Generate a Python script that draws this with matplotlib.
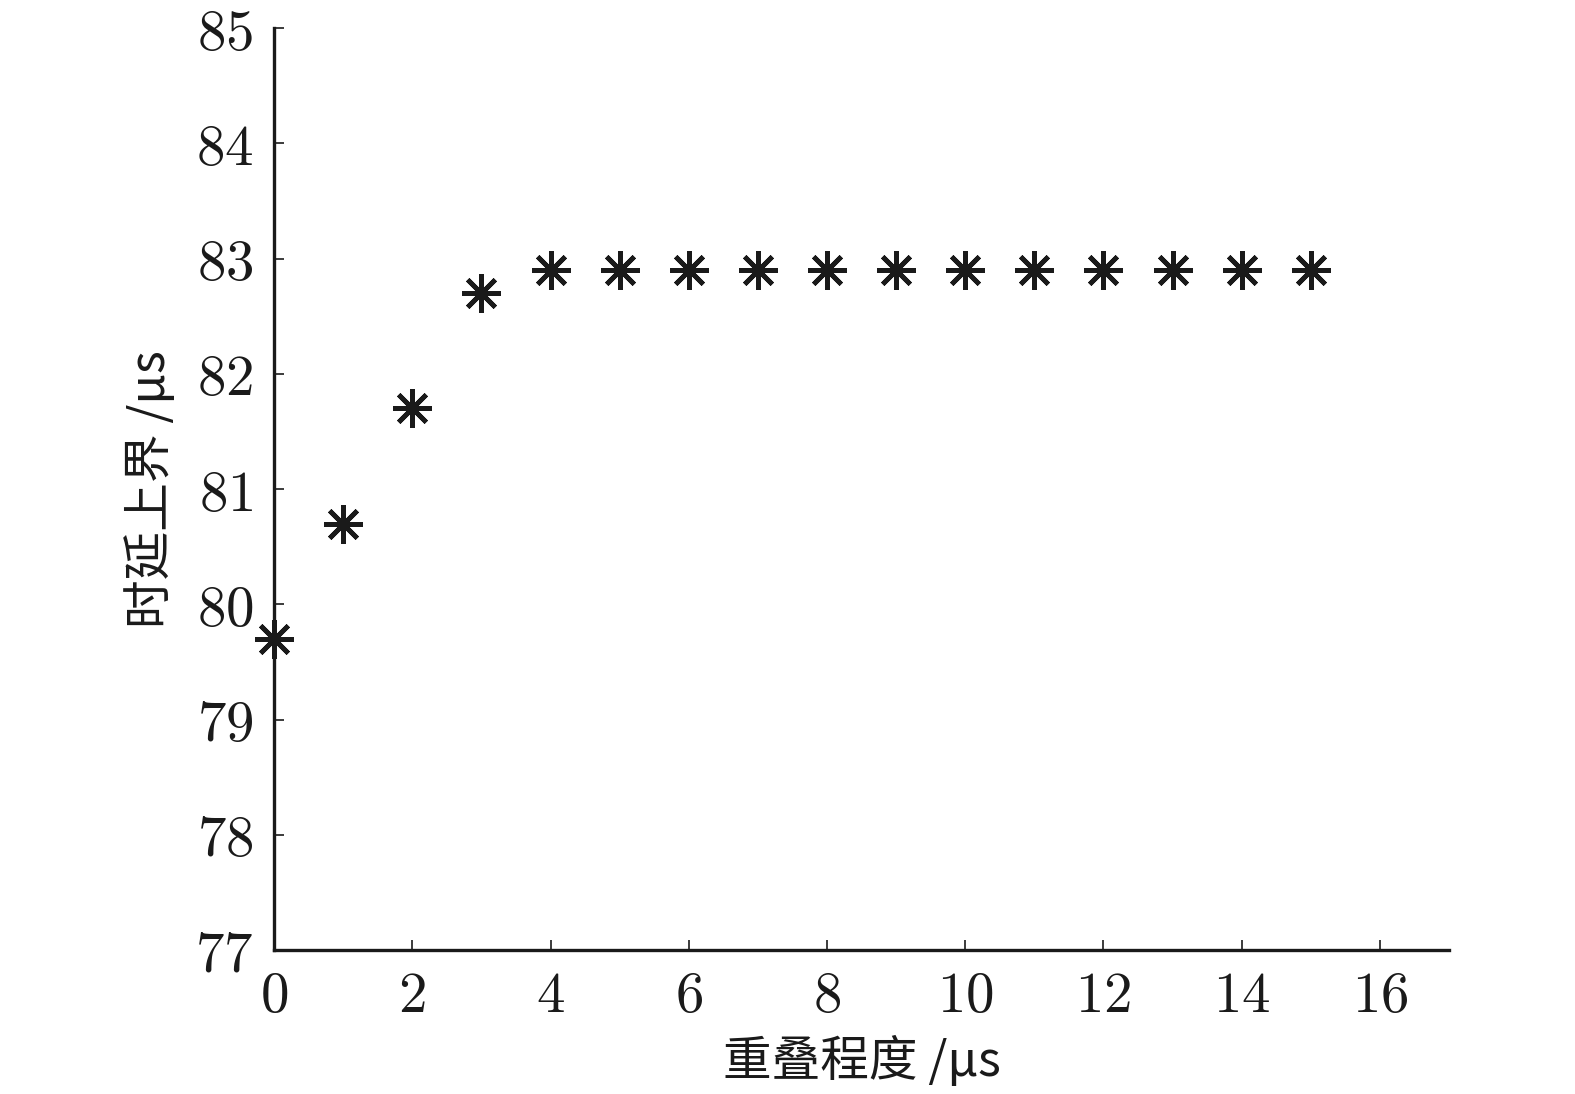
import numpy as np
import matplotlib
matplotlib.use('Agg')
import matplotlib.pyplot as plt
from matplotlib.ticker import FuncFormatter

# overlap (us) vs delay upper bound (us)
overlap = [0, 1, 2, 3, 4, 5, 6, 7, 8, 9, 10, 11, 12, 13, 14, 15]
delay_bound = [79.7, 80.7, 81.7, 82.7, 82.9, 82.9, 82.9, 82.9,
               82.9, 82.9, 82.9, 82.9, 82.9, 82.9, 82.9, 82.9]

xlabel = '重叠程度 /μs'
ylabel = '时延上界 /μs'

plt.rcParams['mathtext.fontset'] = 'cm'

fig = plt.figure(figsize=(15.75, 10.94), dpi=100)
ax = fig.add_axes([0.174, 0.1316, 0.746, 0.8428])

ax.plot(overlap, delay_bound, linestyle='none', marker=(8, 2, 0),
        markersize=28, markeredgewidth=3.4, color='#1a1a1a', clip_on=False)

ax.set_xlim(0, 17)
ax.set_ylim(77, 85)
ax.set_xticks(np.arange(0, 17, 2))
ax.set_yticks(np.arange(77, 86, 1))
fmt = FuncFormatter(lambda v, p: r'$%d$' % v)
ax.xaxis.set_major_formatter(fmt)
ax.yaxis.set_major_formatter(fmt)

for s in ['top', 'right']:
    ax.spines[s].set_visible(False)
for s in ['left', 'bottom']:
    ax.spines[s].set_linewidth(2.4)
    ax.spines[s].set_color('#1a1a1a')

ax.tick_params(direction='in', length=7, width=1.2, labelsize=41,
               colors='#1a1a1a')
ax.tick_params(axis='y', pad=15)
ax.tick_params(axis='x', pad=14)

cjk = ['Noto Sans CJK SC', 'DejaVu Sans']
ax.set_xlabel(xlabel, family=cjk, fontsize=35, color='#1a1a1a', labelpad=8)
ax.set_ylabel(ylabel, family=cjk, fontsize=35, color='#1a1a1a', labelpad=14)

plt.savefig('out.png', dpi=100)
